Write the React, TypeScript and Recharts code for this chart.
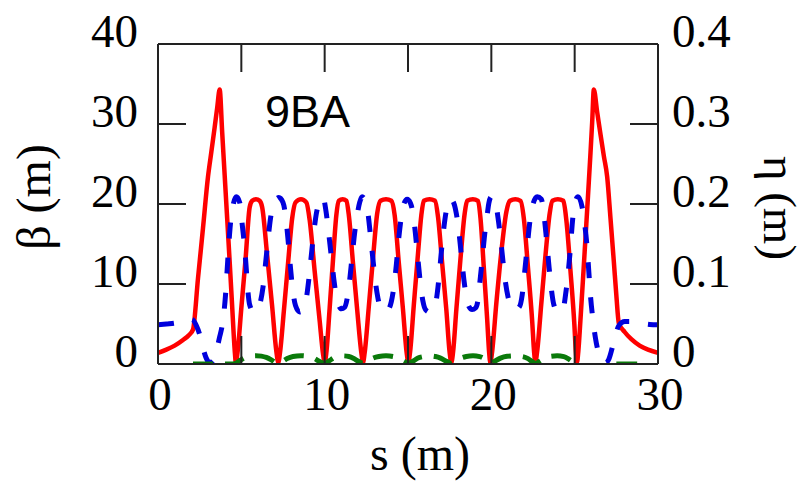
import React from 'react';
import { LineChart, Line, XAxis, YAxis } from 'recharts';

// ---- data ----
const redS = [
  0, 0.5, 1.0, 1.5, 1.85, 2.1, 2.4, 2.7, 3.0, 3.2, 3.4, 3.55, 3.7,
  3.85, 4.0, 4.15, 4.3, 4.45, 4.55, 4.62, 4.67,
  4.77, 5.0, 5.25, 5.5, 5.65, 5.88, 6.1, 6.25, 6.55, 6.85, 7.1, 7.22,
  7.32, 7.55, 7.8, 8.05, 8.25, 8.58, 8.9, 9.1, 9.4, 9.7, 9.9, 10.0,
  10.1, 10.3, 10.5, 10.7, 10.85, 11.08, 11.3, 11.45, 11.7, 11.95, 12.2, 12.3,
  12.4, 12.65, 12.9, 13.15, 13.35, 13.68, 14.0, 14.2, 14.45, 14.7, 14.92, 15.02,
  15.12, 15.35, 15.6, 15.8, 15.95, 16.29, 16.62, 16.8, 17.05, 17.3, 17.5, 17.6,
  17.7, 17.9, 18.15, 18.4, 18.55, 18.89, 19.2, 19.35, 19.55, 19.75, 19.87, 19.94,
  20.04, 20.3, 20.6, 20.9, 21.12, 21.44, 21.75, 21.95, 22.2, 22.45, 22.57, 22.64,
  22.74, 23.0, 23.25, 23.5, 23.67, 23.99, 24.32, 24.5, 24.75, 24.98, 25.07, 25.14,
  25.22, 25.35, 25.5, 25.65, 25.8, 25.95, 26.05, 26.15,
  26.35, 26.55, 26.75, 26.95, 27.15, 27.35, 27.5, 27.65, 28.0, 28.4, 28.9, 29.4, 30,
];
const redBeta = [
  1.4, 1.8, 2.3, 3.0, 3.6, 4.3, 10.7, 17.0, 23.4, 26.5, 29.6, 32.0, 34.3,
  29.0, 23.6, 18.2, 12.8, 7.2, 3.4, 1.2, 0.2,
  1.4, 7.0, 13.0, 19.6, 20.4, 20.6, 20.4, 19.6, 13.6, 7.2, 1.6, 0.2,
  1.4, 6.6, 12.5, 18.2, 20.2, 20.6, 20.2, 18.0, 11.6, 5.4, 1.3, 0.2,
  1.4, 7.0, 13.0, 18.6, 20.4, 20.6, 20.4, 18.6, 12.6, 6.8, 1.4, 0.2,
  1.4, 7.2, 13.2, 18.8, 20.4, 20.6, 20.4, 18.6, 12.6, 6.8, 1.4, 0.2,
  1.4, 7.4, 13.8, 18.6, 20.4, 20.6, 20.4, 18.4, 12.6, 6.8, 1.4, 0.2,
  1.4, 6.8, 13.2, 18.8, 20.4, 20.6, 20.4, 18.2, 12.0, 5.6, 1.4, 0.2,
  1.4, 7.6, 14.0, 19.0, 20.4, 20.6, 20.4, 18.2, 12.0, 5.4, 1.4, 0.2,
  1.4, 7.6, 13.6, 18.8, 20.4, 20.6, 20.4, 18.0, 11.6, 5.0, 1.6, 0.2,
  1.6, 5.6, 10.6, 15.8, 21.0, 26.4, 30.2, 34.3,
  31.5, 28.7, 26.0, 23.4, 18.2, 12.8, 8.6, 5.1, 4.0, 3.1, 2.3, 1.8, 1.4,
];

const blueS = [
  0, 0.5, 1.0, 1.5, 1.9, 2.1, 2.3, 2.5, 2.7, 2.9, 3.1, 3.3, 3.5, 3.7, 3.85, 3.95, 4.05, 4.15, 4.25, 4.35, 4.5, 4.7,
  4.9, 5.05, 5.2, 5.3, 5.4, 5.5, 5.75,
  6.0, 6.15, 6.3, 6.45, 6.6, 6.75, 6.95, 7.25,
  7.5, 7.65, 7.8, 7.95, 8.1, 8.25, 8.5,
  8.75, 8.9, 9.05, 9.2, 9.35, 9.5, 9.7, 9.9,
  10.1, 10.25, 10.4, 10.55, 10.7, 10.85, 11.0,
  11.2, 11.35, 11.5, 11.65, 11.8, 11.95, 12.1, 12.25,
  12.45, 12.6, 12.75, 12.9, 13.05, 13.2, 13.35, 13.6,
  13.85, 14.0, 14.15, 14.3, 14.45, 14.6, 14.75, 14.95,
  15.15, 15.3, 15.45, 15.6, 15.75, 15.9, 16.05, 16.3,
  16.55, 16.7, 16.85, 17.0, 17.15, 17.3, 17.55,
  17.75, 17.9, 18.05, 18.2, 18.35, 18.5, 18.65, 18.85,
  19.05, 19.2, 19.3, 19.45, 19.6, 19.75, 19.85, 20.0,
  20.2, 20.4, 20.55, 20.7, 20.85, 21.0, 21.2, 21.45,
  21.7, 21.85, 22.0, 22.15, 22.3, 22.45, 22.75,
  23.0, 23.15, 23.3, 23.45, 23.6, 23.75, 24.0,
  24.3, 24.45, 24.6, 24.75, 24.85, 24.95, 25.2,
  25.45, 25.6, 25.75, 25.85, 25.95, 26.1, 26.25, 26.45, 26.65, 26.85,
  27.05, 27.25, 27.45, 27.65, 28.0, 28.5, 29.0, 29.5, 30,
];
const blueBeta = [
  4.9, 5.0, 5.1, 5.35, 5.6, 5.5, 4.8, 3.7, 2.0, 0.7, 0.15, 0.4, 1.6, 3.4, 4.8, 6.3, 8.6, 11.8, 15.0, 17.6, 19.8, 20.9,
  20.2, 17.5, 14.5, 11.8, 9.0, 7.4, 6.5,
  6.8, 7.8, 9.6, 12.5, 15.5, 18.2, 20.1, 20.8,
  20.2, 18.6, 15.6, 12.0, 9.0, 7.3, 6.5,
  6.9, 8.2, 10.6, 13.6, 16.5, 18.8, 20.3, 20.8,
  18.8, 16.2, 13.4, 10.6, 8.4, 7.3, 6.9,
  7.1, 8.2, 10.5, 13.5, 16.4, 18.6, 20.2, 20.9,
  20.3, 18.8, 16.0, 13.0, 10.2, 8.2, 7.0, 6.6,
  6.9, 7.8, 9.6, 12.4, 15.8, 18.4, 20.0, 20.6,
  20.1, 18.8, 16.2, 13.0, 10.0, 7.8, 6.8, 6.5,
  6.8, 8.0, 10.6, 14.0, 17.0, 19.2, 20.6,
  20.1, 18.8, 16.6, 13.6, 10.6, 8.4, 7.2, 6.8,
  7.0, 8.0, 10.0, 13.0, 16.2, 18.6, 20.1, 20.9,
  20.6, 18.3, 15.8, 12.8, 10.2, 8.4, 7.2, 6.8,
  7.2, 8.6, 11.5, 14.6, 17.6, 19.6, 20.9,
  20.6, 18.8, 15.8, 12.4, 9.4, 7.4, 6.5,
  6.8, 8.6, 11.2, 14.6, 17.4, 19.4, 20.9,
  19.6, 17.5, 14.5, 11.5, 8.5, 5.5, 3.2, 1.3, 0.4, 0.15,
  0.6, 2.0, 3.6, 4.8, 5.3, 5.3, 5.1, 4.95, 4.9,
];

const greenS = [
  2.1, 3.5, 4.5, 4.67, 4.95, 5.25, 5.55, 5.88, 6.2, 6.5, 6.8, 7.05, 7.22,
  7.45, 7.75, 8.1, 8.58, 9.05, 9.4, 9.7, 10.0,
  10.25, 10.55, 10.8, 11.1, 11.45, 11.75, 12.05, 12.3,
  12.55, 12.9, 13.25, 13.68, 14.1, 14.45, 14.75, 15.02,
  15.3, 15.6, 15.95, 16.3, 16.65, 16.95, 17.3, 17.6,
  17.85, 18.15, 18.5, 18.9, 19.3, 19.6, 19.8, 19.94,
  20.2, 20.55, 20.95, 21.4, 21.85, 22.2, 22.45, 22.64,
  22.9, 23.2, 23.55, 23.95, 24.35, 24.65, 24.9, 25.12,
];
const greenEta = [
  0, 0, 0, 0.0008, 0.0048, 0.0082, 0.0098, 0.0104, 0.0098, 0.0082, 0.0052, 0.002, 0.0008,
  0.003, 0.0068, 0.0094, 0.0104, 0.0094, 0.0068, 0.003, 0.0008,
  0.0035, 0.0078, 0.0096, 0.0102, 0.0094, 0.0068, 0.003, 0.0008,
  0.0035, 0.0074, 0.0094, 0.0102, 0.0094, 0.0072, 0.0035, 0.0008,
  0.0035, 0.0074, 0.0094, 0.0102, 0.0094, 0.0074, 0.0035, 0.0008,
  0.0035, 0.0072, 0.0094, 0.0102, 0.0092, 0.0064, 0.003, 0.0008,
  0.0035, 0.0074, 0.0096, 0.0102, 0.0094, 0.0068, 0.003, 0.0008,
  0.0035, 0.0074, 0.0096, 0.0102, 0.0092, 0.006, 0.0025, 0.0005,
];
const greenTailS = [27.5, 28.75];
const greenTailEta = [0, 0];

const sTicks = [0, 5, 10, 15, 20, 25, 30];
const betaTicks = [0, 10, 20, 30, 40];
const etaTicks = [0, 0.1, 0.2, 0.3, 0.4];

const zip = (xs: number[], ys: number[], key: string) =>
  xs.map((s, i) => ({ s, [key]: ys[i] }));

const redData = zip(redS, redBeta, 'beta');
const blueData = zip(blueS, blueBeta, 'beta');
const greenData = zip(greenS, greenEta, 'eta');
const greenTail = zip(greenTailS, greenTailEta, 'eta');

// ---- styling ----
const SERIF = "'Liberation Serif', 'Times New Roman', Times, serif";
const SANS = "'Liberation Sans', Arial, sans-serif";
const FRAME = '#222';
const TICK_FS = 47;

const LeftTick = (p: any) => (
  <text x={p.x} y={p.y + 3} textAnchor="end" fontFamily={SERIF} fontSize={TICK_FS} fill="#000">
    {p.payload.value}
  </text>
);
const RightTick = (p: any) => (
  <text x={p.x} y={p.y + 3} textAnchor="start" fontFamily={SERIF} fontSize={TICK_FS} fill="#000">
    {p.payload.value}
  </text>
);
const BottomTick = (p: any) =>
  p.payload.value % 10 === 0 ? (
    <text x={p.x + 2} y={p.y} textAnchor="middle" fontFamily={SERIF} fontSize={TICK_FS} fill="#000">
      {p.payload.value}
    </text>
  ) : (
    <g />
  );
const NoTick = () => <g />;

const BetaTitle = () => (
  <text x={50} y={197} transform="rotate(-90, 50, 197)" textAnchor="middle" fontFamily={SERIF} fontSize={48} fill="#000">
    β (m)
  </text>
);
const EtaTitle = () => (
  <text x={764} y={208} transform="rotate(90, 764, 208)" textAnchor="middle" fontFamily={SERIF} fontSize={47} fill="#000">
    η (m)
  </text>
);
const STitle = () => (
  <text x={420} y={470} textAnchor="middle" fontFamily={SERIF} fontSize={48} fill="#000">
    s (m)
  </text>
);
const PlotTitle = () => (
  <text x={265} y={127} textAnchor="start" fontFamily={SANS} fontSize={45} fill="#000">
    9BA
  </text>
);

const axisLine = { stroke: FRAME, strokeWidth: 2 };
const tickLine = { stroke: FRAME, strokeWidth: 2 };

export default function App() {
  return (
    <div style={{ position: 'absolute', left: 0, top: 0, background: '#fff' }}>
      <LineChart width={805} height={482} margin={{ top: 24, right: 87, bottom: 58, left: 98 }}>
        <XAxis
          xAxisId="bottom"
          type="number"
          dataKey="s"
          domain={[0, 30]}
          ticks={sTicks}
          interval={0}
          orientation="bottom"
          height={60}
          tickSize={-28}
          tickMargin={74}
          axisLine={axisLine}
          tickLine={tickLine}
          tick={<BottomTick />}
          allowDataOverflow
          label={<STitle />}
        />
        <XAxis
          xAxisId="top"
          type="number"
          dataKey="s"
          domain={[0, 30]}
          ticks={sTicks}
          interval={0}
          orientation="top"
          height={20}
          tickSize={-28}
          axisLine={axisLine}
          tickLine={tickLine}
          tick={<NoTick />}
          allowDataOverflow
          label={<PlotTitle />}
        />
        <YAxis
          yAxisId="left"
          type="number"
          domain={[0, 40]}
          ticks={betaTicks}
          interval={0}
          orientation="left"
          width={60}
          tickSize={-28}
          tickMargin={48}
          axisLine={axisLine}
          tickLine={tickLine}
          tick={<LeftTick />}
          allowDataOverflow
          label={<BetaTitle />}
        />
        <YAxis
          yAxisId="right"
          type="number"
          domain={[0, 0.4]}
          ticks={etaTicks}
          interval={0}
          orientation="right"
          width={60}
          tickSize={-28}
          tickMargin={42}
          axisLine={axisLine}
          tickLine={tickLine}
          tick={<RightTick />}
          allowDataOverflow
          label={<EtaTitle />}
        />
        <Line
          data={redData}
          dataKey="beta"
          xAxisId="bottom"
          yAxisId="left"
          type="monotone"
          stroke="#ff0000"
          strokeWidth={4.5}
          dot={false}
          activeDot={false}
          isAnimationActive={false}
        />
        <Line
          data={blueData}
          dataKey="beta"
          xAxisId="bottom"
          yAxisId="left"
          type="monotone"
          stroke="#0000dd"
          strokeWidth={5}
          strokeDasharray="16 19"
          dot={false}
          activeDot={false}
          isAnimationActive={false}
        />
        <Line
          data={greenData}
          dataKey="eta"
          xAxisId="bottom"
          yAxisId="right"
          type="monotone"
          stroke="#0a7a0a"
          strokeWidth={5}
          strokeDasharray="20 12"
          dot={false}
          activeDot={false}
          isAnimationActive={false}
        />
        <Line
          data={greenTail}
          dataKey="eta"
          xAxisId="bottom"
          yAxisId="right"
          type="linear"
          stroke="#0a7a0a"
          strokeWidth={5}
          dot={false}
          activeDot={false}
          isAnimationActive={false}
        />
      </LineChart>
    </div>
  );
}
